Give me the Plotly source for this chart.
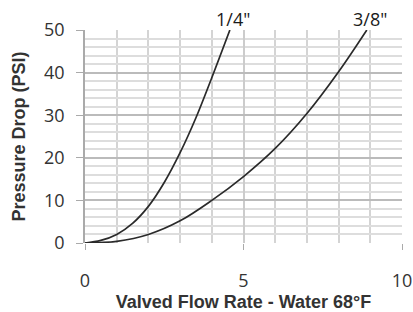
import plotly.graph_objects as go

x_quarter = [0, 0.5, 1, 1.5, 2, 2.5, 3, 3.5, 4, 4.57]
y_quarter = [0, 0.6, 2, 4.6, 8.6, 14.2, 21.2, 29.4, 38.8, 50]
x_3_8 = [0, 1, 2, 3, 4, 5, 6, 7, 8, 8.89]
y_3_8 = [0, 0.4, 2.0, 5.2, 10.0, 15.6, 22.2, 30.4, 40.2, 50]
series_labels = ['1/4"', '3/8"']
x_ticks = [0, 5, 10]
y_ticks = [0, 10, 20, 30, 40, 50]

fig = go.Figure()
for xs, ys in [(x_quarter, y_quarter), (x_3_8, y_3_8)]:
    fig.add_trace(go.Scatter(x=xs, y=ys, mode="lines",
                             line=dict(color="#2a2a2a", width=1.7, shape="spline", smoothing=1.0),
                             showlegend=False, hoverinfo="skip", cliponaxis=False))

for xs, ys, lab in [(x_quarter, y_quarter, series_labels[0]), (x_3_8, y_3_8, series_labels[1])]:
    fig.add_annotation(x=xs[-1], y=ys[-1], text=lab, showarrow=False,
                       xanchor="center", yanchor="bottom", xshift=3, yshift=-3,
                       font=dict(family="Open Sans", size=18, color="#1a1a1a"))

fig.update_layout(
    width=413, height=312,
    margin=dict(l=85, r=11, t=30, b=69),
    plot_bgcolor="white", paper_bgcolor="white",
    xaxis=dict(range=[0, 10], tickvals=x_ticks, ticks="outside", ticklen=6,
               tickcolor="#aaaaaa", ticklabelstandoff=15,
               showgrid=True, gridcolor="#cccccc", gridwidth=1.5,
               minor=dict(dtick=1, showgrid=True, gridcolor="#d4d4d4", gridwidth=1.5, ticks=""),
               zeroline=False, showline=False,
               tickfont=dict(family="Open Sans", size=18, color="#333333"),
               title=dict(text="Valved Flow Rate - Water 68°F", standoff=0,
                          font=dict(family="Liberation Sans", size=18, color="#333333", weight="bold")),
               automargin=False),
    yaxis=dict(range=[0, 50], tickvals=y_ticks, ticks="outside", ticklen=7,
               tickcolor="#aaaaaa", ticklabelstandoff=8,
               showgrid=True, gridcolor="#bbbbbb", gridwidth=1.5,
               minor=dict(dtick=2, showgrid=True, gridcolor="#dddddd", gridwidth=1.5, ticks=""),
               zeroline=False, showline=True, linecolor="#aaaaaa", linewidth=1.5,
               tickfont=dict(family="Open Sans", size=18, color="#333333"),
               title=dict(text="Pressure Drop (PSI)", standoff=14,
                          font=dict(family="Liberation Sans", size=18, color="#333333", weight="bold")),
               automargin=False),
)

fig.write_html("out.html", config={"displayModeBar": False})
with open("out.html", "r", encoding="utf-8") as f:
    html = f.read()
html = html.replace("<head>", "<head><style>html,body{margin:0;padding:0;overflow:hidden;}</style>", 1)
with open("out.html", "w", encoding="utf-8") as f:
    f.write(html)
